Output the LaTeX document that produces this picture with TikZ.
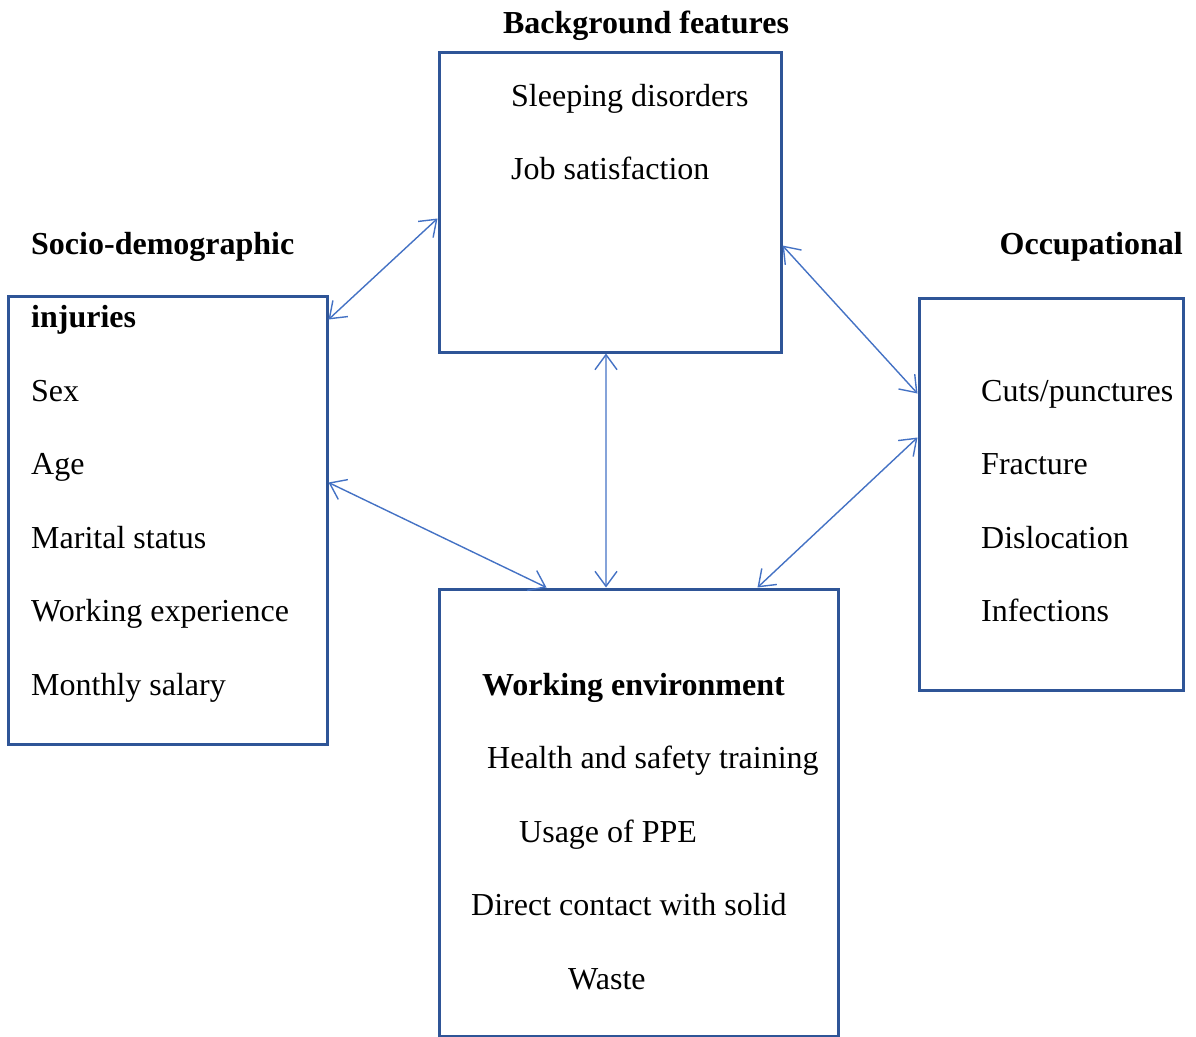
\documentclass[tikz,border=0pt]{standalone}
\usepackage{fontspec}
\setmainfont{Liberation Serif}
\usetikzlibrary{arrows.meta}
\definecolor{boxblue}{HTML}{2F5597}
\definecolor{linkblue}{HTML}{4472C4}
\begin{document}
\begin{tikzpicture}[x=1bp,y=-1bp,
  box/.style={draw=boxblue,line width=3bp,rectangle,inner sep=0pt},
  txt/.style={anchor=base west,inner sep=0pt,font=\fontsize{32bp}{38bp}\selectfont},
  head/.style={txt,font=\fontsize{32bp}{38bp}\selectfont\bfseries},
  link/.style={draw=linkblue,line width=1.4bp,{Straight Barb[length=15bp,width=22bp,line width=1.4bp]}-{Straight Barb[length=15bp,width=22bp,line width=1.4bp]}}]
\useasboundingbox (0,0) rectangle (1196,1037);
% boxes
\node[box,minimum width=318bp,minimum height=448bp] (L) at (168,520) {};
\node[box,minimum width=342bp,minimum height=300bp] (T) at (610,202) {};
\node[box,minimum width=264bp,minimum height=392bp] (R) at (1051,494) {};
\node[box,minimum width=399bp,minimum height=447bp] (B) at (638.5,812.5) {};
% top
\node[head,anchor=base] (tT) at (646,33) {Background features};
\node[txt] (t1) at (511,106) {Sleeping disorders};
\node[txt] (t2) at (511,179) {Job satisfaction};
% left
\node[head] (lT1) at (31,254) {Socio-demographic};
\node[head] (lT2) at (31,327) {injuries};
\node[txt] (l1) at (31,401) {Sex};
\node[txt] (l2) at (31,474) {Age};
\node[txt] (l3) at (31,548) {Marital status};
\node[txt] (l4) at (31,621) {Working experience};
\node[txt] (l5) at (31,695) {Monthly salary};
% right
\node[head,anchor=base east] (rT) at (1183,254) {Occupational};
\node[txt] (r1) at (981,401) {Cuts/punctures};
\node[txt] (r2) at (981,474) {Fracture};
\node[txt] (r3) at (981,548) {Dislocation};
\node[txt] (r4) at (981,621) {Infections};
% bottom
\node[head] (bT) at (482,695) {Working environment};
\node[txt] (b1) at (487,768) {Health and safety training};
\node[txt] (b2) at (519,842) {Usage of PPE};
\node[txt] (b3) at (471,915) {Direct contact with solid};
\node[txt] (b4) at (568,989) {Waste};
% connectors
\draw[link] ([yshift=-25bp]L.north east) -- ([yshift=-168bp]T.north west);
\draw[link] ([yshift=-195bp]T.north east) -- ([yshift=-97bp]R.north west);
\draw[link] ([xshift=-4bp]T.south) -- ([xshift=-32.5bp]B.north);
\draw[link] ([yshift=-188bp]L.north east) -- ([xshift=109bp]B.north west);
\draw[link] ([yshift=-141bp]R.north west) -- ([xshift=-82bp]B.north east);
\end{tikzpicture}
\end{document}
